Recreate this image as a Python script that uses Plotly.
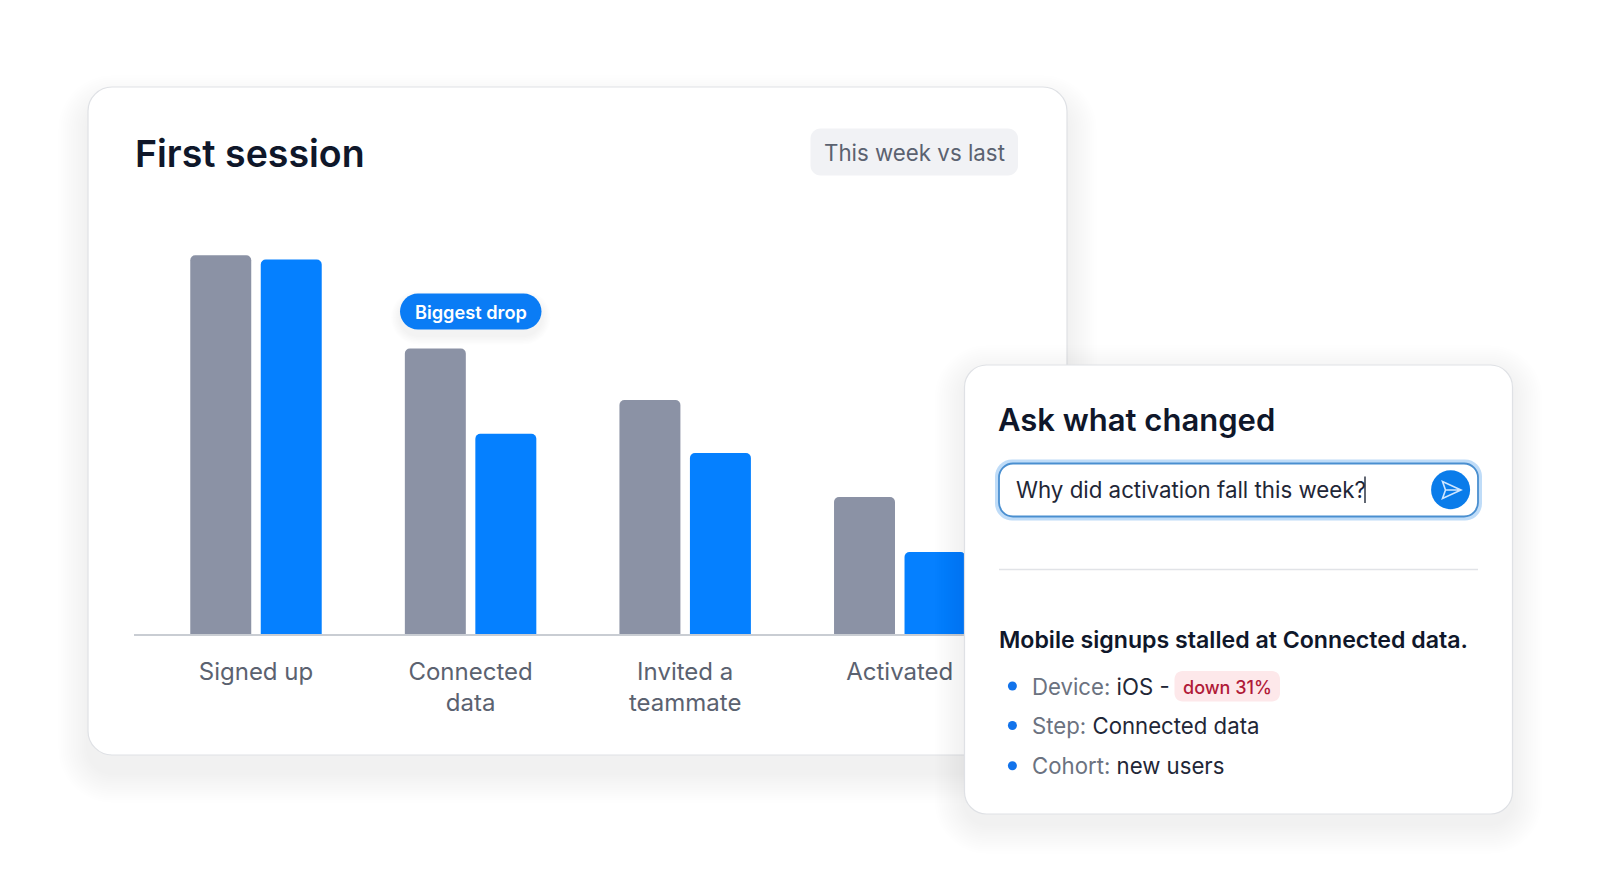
import plotly.graph_objects as go

W, H = 1600, 893
FONT = "Inter"
categories = ["Signed up", "Connected<br>data", "Invited a<br>teammate", "Activated"]
last_week = [100, 75.4, 61.8, 36.2]
this_week = [98.9, 52.9, 47.8, 21.7]

GREY_BAR = "#8b92a5"
BLUE = "#0580ff"
DARK = "#0f172a"
MUTED = "#5b6270"


def px(x):
    return x / W


def py(y):
    return 1 - y / H


def round_rect(x0, y0, x1, y1, r):
    # rounded corners as beziers, arcs dont work with paper refs
    k = r * 0.45
    pts = [
        f"M{px(x0 + r)},{py(y0)}",
        f"L{px(x1 - r)},{py(y0)}",
        f"C{px(x1 - k)},{py(y0)} {px(x1)},{py(y0 + k)} {px(x1)},{py(y0 + r)}",
        f"L{px(x1)},{py(y1 - r)}",
        f"C{px(x1)},{py(y1 - k)} {px(x1 - k)},{py(y1)} {px(x1 - r)},{py(y1)}",
        f"L{px(x0 + r)},{py(y1)}",
        f"C{px(x0 + k)},{py(y1)} {px(x0)},{py(y1 - k)} {px(x0)},{py(y1 - r)}",
        f"L{px(x0)},{py(y0 + r)}",
        f"C{px(x0)},{py(y0 + k)} {px(x0 + k)},{py(y0)} {px(x0 + r)},{py(y0)}",
        "Z",
    ]
    return " ".join(pts)


shapes = []


def box(x0, y0, x1, y1, r, fill, line=None, lw=1, layer="above"):
    shapes.append(dict(
        type="path", xref="paper", yref="paper", layer=layer,
        path=round_rect(x0, y0, x1, y1, r), fillcolor=fill,
        line=dict(color=line or "rgba(0,0,0,0)", width=lw if line else 0),
    ))


def shadow(x0, y0, x1, y1, r, dy, spread, steps, alpha, layer="above"):
    for i in range(steps, 0, -1):
        e = spread * i / steps
        box(x0 - e, y0 + dy - e, x1 + e, y1 + dy + e, r + e,
            f"rgba(15,23,42,{alpha})", layer=layer)


def dot(cx, cy, r, fill):
    shapes.append(dict(
        type="circle", xref="paper", yref="paper", layer="above",
        x0=px(cx - r), x1=px(cx + r), y0=py(cy + r), y1=py(cy - r),
        fillcolor=fill, line=dict(width=0),
    ))


annotations = []


def label(x, y, text, size, color, weight=400, anchor="left"):
    annotations.append(dict(
        x=px(x), y=py(y), xref="paper", yref="paper", text=text, showarrow=False,
        xanchor=anchor, yanchor="middle", align=anchor, borderpad=0,
        font=dict(family=FONT, size=size, color=color, weight=weight),
    ))


# main card, under the bars
shadow(88, 87, 1067, 755, 24, 18, 30, 14, 0.0035, layer="below")
box(88, 87, 1067, 755, 24, "#ffffff", "#dfe1e5", 1.2, layer="below")
label(134, 153.3, "First session", 37.5, DARK, 600)
box(810.5, 128.5, 1018, 175.5, 10, "#f1f2f5", layer="below")
label(914, 152, "This week vs last", 22.3, MUTED, anchor="center")

# biggest drop tag
shadow(400, 293.5, 541.5, 329.5, 18, 6, 9, 6, 0.007)
box(400, 293.5, 541.5, 329.5, 18, "#0a7cf5")
label(470.7, 312, "Biggest drop", 18.2, "#ffffff", 600, anchor="center")

# chat card sits on top of the chart
shadow(964.5, 365, 1512.5, 814, 22, 10, 30, 14, 0.005)
box(964.5, 365, 1512.5, 814, 22, "#ffffff", "#dfe1e5", 1.2)
label(997, 419.5, "Ask what changed", 31, DARK, 600)

box(995, 459.5, 1482, 520.5, 17, "#bfdcf8")
box(999, 463.5, 1478, 516.5, 14, "#ffffff", "#4a8fd0", 1.8)
label(1014.5, 489, "Why did activation fall this week?", 22.3, "#1f2737")
shapes.append(dict(
    type="line", xref="paper", yref="paper", layer="above",
    x0=px(1365), x1=px(1365), y0=py(476.5), y1=py(503),
    line=dict(color="#1f2737", width=1.4),
))
dot(1450.6, 489.7, 19.5, "#0a7cea")
plane = [(1461, 490), (1442.5, 481.5), (1442.5 + 3, 490), (1442.5, 498.5)]
shapes.append(dict(
    type="path", xref="paper", yref="paper", layer="above",
    path="M" + " L".join(f"{px(a)},{py(b)}" for a, b in plane) + " Z"
         + f" M{px(1445.5)},{py(490)} L{px(1461)},{py(490)}",
    fillcolor="rgba(0,0,0,0)", line=dict(color="#cfe6ff", width=1.6),
))

shapes.append(dict(
    type="line", xref="paper", yref="paper", layer="above",
    x0=px(999), x1=px(1478), y0=py(569.5), y1=py(569.5),
    line=dict(color="#e1e3e7", width=1.3),
))
label(997.5, 639.7, "Mobile signups stalled at Connected data.", 23.15, DARK, 600)

GREY_TXT = "#6b7280"
for yy, key, val in [
    (686, "Device:", "iOS -"),
    (725.5, "Step:", "Connected data"),
    (765.7, "Cohort:", "new users"),
]:
    dot(1012.4, yy, 4.5, "#1273eb")
    label(1031, yy, f"<span style='color:{GREY_TXT}'>{key}</span> {val}", 22.2, "#1f2737")

box(1174.5, 671, 1280, 701.5, 8, "#fde8ea")
label(1227.3, 687, "down 31%", 18, "#b01a38", weight=500, anchor="center")

fig = go.Figure()
fig.add_bar(x=categories, y=last_week, name="Last week", marker_color=GREY_BAR)
fig.add_bar(x=categories, y=this_week, name="This week", marker_color=BLUE)
fig.update_traces(marker_line_width=0, hoverinfo="skip")

fig.update_layout(
    width=W,
    height=H,
    margin=dict(l=0, r=0, t=0, b=0),
    paper_bgcolor="white",
    plot_bgcolor="rgba(0,0,0,0)",
    showlegend=False,
    barmode="group",
    bargap=0.343,
    bargroupgap=0.135,
    barcornerradius=5,
    shapes=shapes,
    annotations=annotations,
    xaxis=dict(
        domain=[px(134), px(1018)],
        range=[-0.5685, 3.551],
        showline=True,
        linecolor="#c9cdd3",
        linewidth=1.6,
        showgrid=False,
        zeroline=False,
        ticks="outside",
        ticklen=15,
        tickcolor="rgba(0,0,0,0)",
        tickfont=dict(family=FONT, size=24, color=MUTED),
        fixedrange=True,
    ),
    yaxis=dict(
        domain=[py(634.3), py(236.3)],
        range=[0, 105],
        visible=False,
        fixedrange=True,
    ),
)

fig.write_html(
    "out.html",
    config=dict(displayModeBar=False),
    post_script="document.body.style.margin='0';",
)
